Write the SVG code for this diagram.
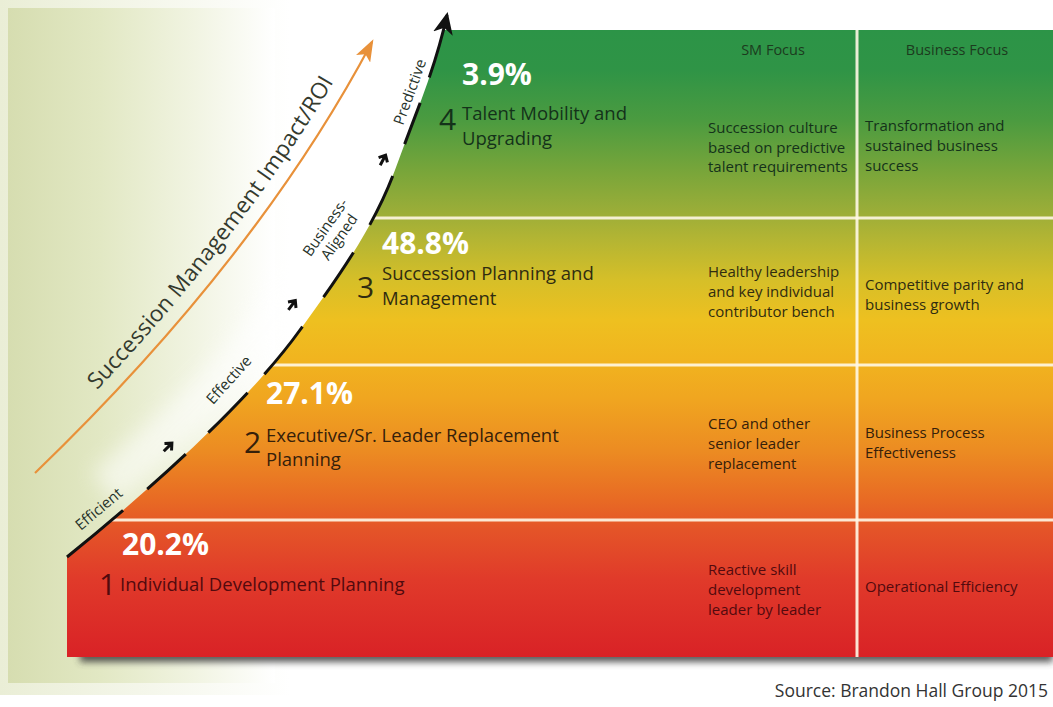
<svg xmlns="http://www.w3.org/2000/svg" width="1053" height="707" viewBox="0 0 1053 707">
<defs>
  <style>
    text { font-family: "Open Sans", "Noto Sans", sans-serif; }
    .pct { font-size: 30px; font-weight: bold; fill: #ffffff; }
    .num { font-size: 30px; }
    .title { font-size: 18.5px; }
    .col { font-size: 15px; }
    .hdr { font-size: 14.5px; fill: #1c3b1e; }
    .clbl { font-size: 15px; fill: #26322a; }
    .roi { font-size: 22.5px; fill: #343a2e; }
    .b4 { fill: #14321a; }
    .b3 { fill: #302c10; }
    .b2 { fill: #35200a; }
    .b1 { fill: #520a0e; }
    .divider { stroke: #fff8e6; stroke-width: 3; opacity: 0.9; }
    .mini { fill: none; stroke: #111111; stroke-width: 3; }
  </style>
  <linearGradient id="outerGrad" x1="0" y1="0" x2="290" y2="0" gradientUnits="userSpaceOnUse">
    <stop offset="0" stop-color="#eaeed6"/>
    <stop offset="1" stop-color="#ffffff"/>
  </linearGradient>
  <linearGradient id="panelGrad" x1="8" y1="0" x2="275" y2="0" gradientUnits="userSpaceOnUse">
    <stop offset="0" stop-color="#d6ddb0"/>
    <stop offset="0.35" stop-color="#e2e8c4"/>
    <stop offset="0.7" stop-color="#f1f4e2"/>
    <stop offset="1" stop-color="#ffffff"/>
  </linearGradient>
  <linearGradient id="bandGrad" x1="0" y1="30" x2="0" y2="657" gradientUnits="userSpaceOnUse">
    <stop offset="0" stop-color="#2c9447"/>
    <stop offset="0.064" stop-color="#2f9446"/>
    <stop offset="0.144" stop-color="#4b9b40"/>
    <stop offset="0.223" stop-color="#77a53a"/>
    <stop offset="0.295" stop-color="#9eae38"/>
    <stop offset="0.335" stop-color="#b4b533"/>
    <stop offset="0.399" stop-color="#d6bf28"/>
    <stop offset="0.463" stop-color="#eec020"/>
    <stop offset="0.526" stop-color="#f1b41f"/>
    <stop offset="0.590" stop-color="#f0a520"/>
    <stop offset="0.670" stop-color="#ec8c22"/>
    <stop offset="0.750" stop-color="#e86a24"/>
    <stop offset="0.797" stop-color="#e45428"/>
    <stop offset="0.877" stop-color="#e03a2a"/>
    <stop offset="1" stop-color="#d92226"/>
  </linearGradient>
  <clipPath id="topClip"><rect x="0" y="30" width="1053" height="640"/></clipPath>
  <clipPath id="shapeClip">
    <path d="M67,657 L67,557 C150,490 250,400 300,330 C340,275 375,225 395,170 C415,115 435,70 447,15 L1053,15 L1053,657 Z"/>
  </clipPath>
  <filter id="shadowBlur" filterUnits="userSpaceOnUse" x="0" y="600" width="1053" height="107">
    <feGaussianBlur stdDeviation="3.5"/>
  </filter>
  <filter id="glowBlur" filterUnits="userSpaceOnUse" x="0" y="0" width="600" height="707">
    <feGaussianBlur stdDeviation="10"/>
  </filter>
  <marker id="orangeHead" markerUnits="userSpaceOnUse" markerWidth="22" markerHeight="16" viewBox="0 0 22 16" refX="19" refY="8" orient="auto">
    <path d="M0,0 L22,8 L0,16 L5,8 Z" fill="#e8913a"/>
  </marker>
  <marker id="blackHead" markerUnits="userSpaceOnUse" markerWidth="22" markerHeight="20" viewBox="0 0 22 20" refX="19" refY="10" orient="auto">
    <path d="M0,0 L22,10 L0,20 L6,10 Z" fill="#111111"/>
  </marker>
  <path id="mini" class="mini" d="M-6,0 L4.5,0 M0,-5 L5.5,0 L0,5"/>
  <path id="roiPath" d="M25,463 Q245,250 360,35" fill="none"/>
</defs>

<g id="background">
  <rect x="0" y="0" width="1053" height="707" fill="#ffffff"/>
  <rect x="0" y="0" width="290" height="695" fill="url(#outerGrad)"/>
  <rect x="8" y="8" width="267" height="675" fill="url(#panelGrad)"/>
  <path d="M105,488 C165,435 230,380 280,310 C320,255 355,205 375,150 C395,95 415,50 427,0" fill="none" stroke="#ffffff" stroke-width="40" opacity="0.55" filter="url(#glowBlur)"/>
</g>

<g id="chart-shape">
  <rect x="80" y="650" width="973" height="12" fill="#3a3a3a" opacity="0.85" filter="url(#shadowBlur)"/>
  <g clip-path="url(#topClip)">
    <path d="M67,657 L67,557 C150,490 250,400 300,330 C340,275 375,225 395,170 C415,115 435,70 447,15 L1053,15 L1053,657 Z" fill="url(#bandGrad)"/>
  </g>
  <g clip-path="url(#shapeClip)">
    <line class="divider" x1="0" y1="218" x2="1053" y2="218"/>
    <line class="divider" x1="0" y1="365" x2="1053" y2="365"/>
    <line class="divider" x1="0" y1="520" x2="1053" y2="520"/>
  </g>
  <line class="divider" x1="857" y1="30" x2="857" y2="657"/>
</g>

<g id="headers">
  <text class="hdr" x="773" y="55" text-anchor="middle">SM Focus</text>
  <text class="hdr" x="957" y="55" text-anchor="middle">Business Focus</text>
</g>

<g id="level-4">
  <text class="pct" x="462" y="85">3.9%</text>
  <text class="num b4" x="439" y="130">4</text>
  <text class="title b4" x="462" y="120">Talent Mobility and</text>
  <text class="title b4" x="462" y="145">Upgrading</text>
  <text class="col b4" x="708" y="133">Succession culture</text>
  <text class="col b4" x="708" y="152.5">based on predictive</text>
  <text class="col b4" x="708" y="172">talent requirements</text>
  <text class="col b4" x="865" y="131">Transformation and</text>
  <text class="col b4" x="865" y="151">sustained business</text>
  <text class="col b4" x="865" y="171">success</text>
</g>

<g id="level-3">
  <text class="pct" x="382" y="254">48.8%</text>
  <text class="num b3" x="357" y="298">3</text>
  <text class="title b3" x="382" y="280">Succession Planning and</text>
  <text class="title b3" x="382" y="305">Management</text>
  <text class="col b3" x="708" y="277">Healthy leadership</text>
  <text class="col b3" x="708" y="297">and key individual</text>
  <text class="col b3" x="708" y="317">contributor bench</text>
  <text class="col b3" x="865" y="290">Competitive parity and</text>
  <text class="col b3" x="865" y="310">business growth</text>
</g>

<g id="level-2">
  <text class="pct" x="266" y="404">27.1%</text>
  <text class="num b2" x="244" y="453">2</text>
  <text class="title b2" x="266" y="442">Executive/Sr. Leader Replacement</text>
  <text class="title b2" x="266" y="466">Planning</text>
  <text class="col b2" x="708" y="429">CEO and other</text>
  <text class="col b2" x="708" y="449">senior leader</text>
  <text class="col b2" x="708" y="469">replacement</text>
  <text class="col b2" x="865" y="438">Business Process</text>
  <text class="col b2" x="865" y="458">Effectiveness</text>
</g>

<g id="level-1">
  <text class="pct" x="122" y="555">20.2%</text>
  <text class="num b1" x="99" y="595">1</text>
  <text class="title b1" x="120" y="591">Individual Development Planning</text>
  <text class="col b1" x="708" y="575">Reactive skill</text>
  <text class="col b1" x="708" y="595">development</text>
  <text class="col b1" x="708" y="615">leader by leader</text>
  <text class="col b1" x="865" y="592">Operational Efficiency</text>
</g>

<g id="connectors">
  <path id="roi-arrow" d="M35,473 Q257,259 372,42" fill="none" stroke="#e8913a" stroke-width="2.2" marker-end="url(#orangeHead)"/>
  <path id="maturity-curve" d="M67,557 C150,490 250,400 300,330 C340,275 375,225 395,170 C415,115 435,70 447,15" fill="none" stroke="#111111" stroke-width="3" pathLength="676" stroke-dasharray="73 32 52 31 56 25 61 36 54 32 54 34 44 27 70 100" marker-end="url(#blackHead)"/>
  <use href="#mini" transform="translate(168,447) rotate(-45)"/>
  <use href="#mini" transform="translate(292,305) rotate(-53)"/>
  <use href="#mini" transform="translate(383,160) rotate(-62)"/>
</g>

<g id="curve-labels">
  <text class="clbl" transform="translate(99,509) rotate(-40)" x="0" y="5" text-anchor="middle">Efficient</text>
  <text class="clbl" transform="translate(229,380) rotate(-48)" x="0" y="5" text-anchor="middle">Effective</text>
  <g transform="translate(332,232) rotate(-55)">
    <text class="clbl" x="0" y="-3" text-anchor="middle">Business-</text>
    <text class="clbl" x="0" y="14" text-anchor="middle">Aligned</text>
  </g>
  <text class="clbl" transform="translate(410,92) rotate(-70)" x="0" y="5" text-anchor="middle">Predictive</text>
  <text class="roi"><textPath href="#roiPath" startOffset="102" textLength="390" lengthAdjust="spacing">Succession Management Impact/ROI</textPath></text>
</g>

<g id="source">
  <text x="1048" y="697" text-anchor="end" style="font-size:17.5px; fill:#333333;">Source: Brandon Hall Group 2015</text>
</g>
</svg>
